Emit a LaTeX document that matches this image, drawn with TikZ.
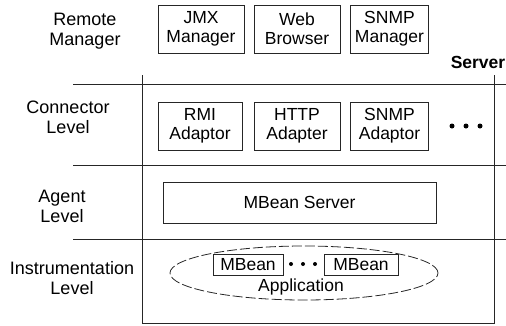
\documentclass[tikz,border=0pt]{standalone}
\usepackage{fontspec}
\setmainfont{Liberation Sans}
\usetikzlibrary{shapes.geometric}
\begin{document}
\begin{tikzpicture}[x=1pt,y=-1pt,
  every node/.style={font=\fontsize{17.5}{19}\selectfont, inner sep=0pt, align=center},
  boxnode/.style={draw=black!85, line width=0.8pt, minimum height=48pt},
  lvl/.style={font=\fontsize{18}{20}\selectfont},
  rule/.style={draw=black!85, line width=0.8pt},
  dot/.style={fill=black, circle, minimum size=5pt, inner sep=0pt},
  sdot/.style={fill=black, circle, minimum size=4pt, inner sep=0pt}]
\useasboundingbox (0,0) rectangle (506,325);
% level labels
\node[lvl] (rm) at (85,31) {Remote\\Manager};
\node[lvl] (cl) at (68,117) {Connector\\Level};
\node[lvl] (al) at (62,206) {Agent\\Level};
\node[lvl] (il) at (72,278) {Instrumentation\\Level};
\node (srv) at (478,62) {\textbf{Server}};
% structural lines
\coordinate (h1a) at (73,84);  \coordinate (h1b) at (506,84);
\coordinate (h2a) at (73,165); \coordinate (h2b) at (506,165);
\coordinate (h3a) at (73,239); \coordinate (h3b) at (506,239);
\coordinate (vlT) at (142,75); \coordinate (vlB) at (142,323);
\coordinate (vrT) at (494,75); \coordinate (vrB) at (494,323);
\draw[rule] (h1a) -- (h1b);
\draw[rule] (h2a) -- (h2b);
\draw[rule] (h3a) -- (h3b);
\draw[rule] (vlT) -- (vlB) -- (vrB) -- (vrT);
% remote managers
\node[boxnode, minimum width=86pt] (jmx) at (201,29) {JMX\\Manager};
\node[boxnode, minimum width=86pt] (web) at (297,29) {Web\\Browser};
\node[boxnode, minimum width=78pt] (snmpm) at (389.5,29) {SNMP\\Manager};
% adaptors
\node[boxnode, minimum width=84pt] (rmi) at (200,126) {RMI\\Adaptor};
\node[boxnode, minimum width=86pt] (http) at (297,126) {HTTP\\Adapter};
\node[boxnode, minimum width=78pt] (snmpa) at (389.5,126) {SNMP\\Adaptor};
\node[dot] (d1) at (452,126) {};
\node[dot] (d2) at (466,126) {};
\node[dot] (d3) at (480,126) {};
% agent
\node[boxnode, minimum width=273pt, minimum height=41pt] (mbs) at (299.5,202.5) {MBean Server};
% instrumentation
\node[draw=black!85, line width=0.8pt, dashed, dash pattern=on 10pt off 3pt, ellipse, minimum width=268pt, minimum height=54pt] (app) at (304,273) {};
\node[draw=black!85, line width=0.8pt, minimum width=70pt, minimum height=21pt] (mb1) at (248,264.5) {MBean};
\node[draw=black!85, line width=0.8pt, minimum width=74pt, minimum height=21pt] (mb2) at (361,264.5) {MBean};
\node[sdot] (e1) at (291,264) {};
\node[sdot] (e2) at (303,264) {};
\node[sdot] (e3) at (315,264) {};
\node (apl) at (301,287) {Application};
\end{tikzpicture}
\end{document}
